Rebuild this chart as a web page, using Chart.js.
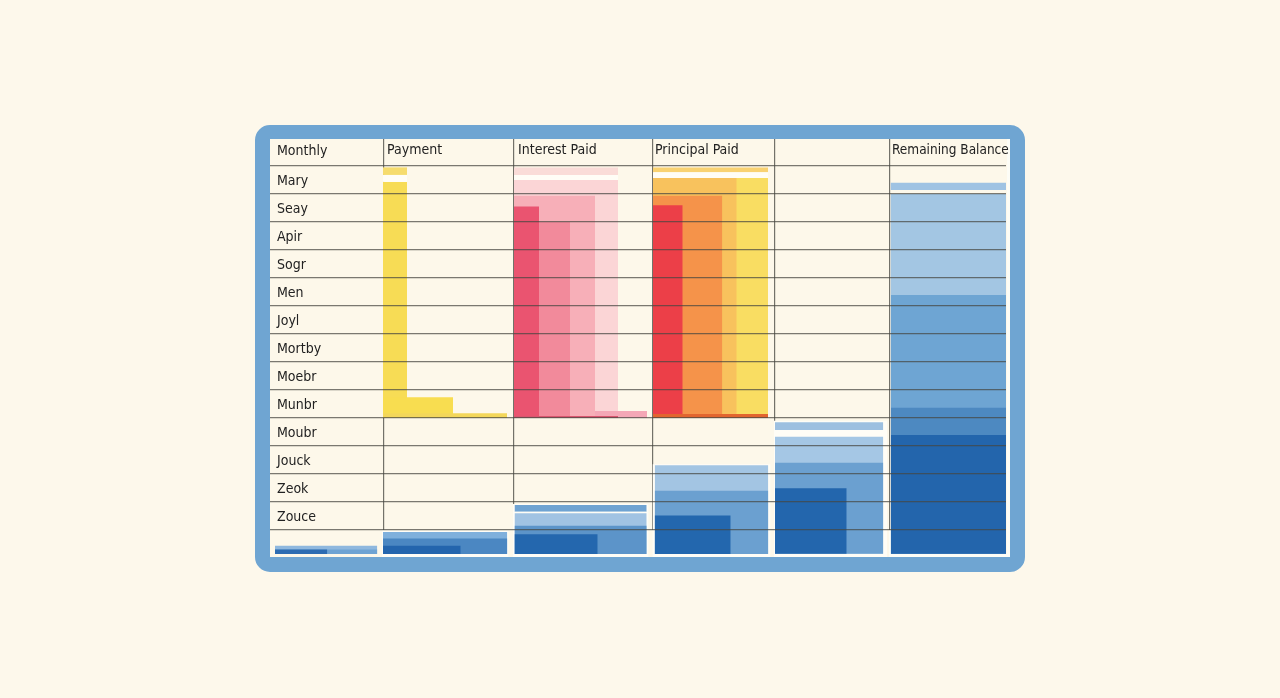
<!DOCTYPE html>
<html>
<head>
<meta charset="utf-8">
<title>Monthly loan table</title>
<script src="https://cdn.jsdelivr.net/npm/chart.js@4"></script>
<style>
    html, body { margin: 0; height: 100%; background: #fdf8eb; }
    #frame {
        position: absolute; left: 255px; top: 125px; width: 770px; height: 447px;
        box-sizing: border-box; border: solid #6fa5d2; border-width: 14px 15px 15px 15px;
        border-radius: 15px; background: #fdf8ea;
        box-shadow: inset -3px -3px 0 #fdfdf6;
    }
    #wrap { position: absolute; left: 270px; top: 139px; width: 739px; height: 418px; }
</style>
</head>
<body>
<div id="frame"></div>
<div id="wrap"><canvas id="tableChart" width="739" height="418"></canvas></div>
<script>
const rowLabels = ['Monthly', 'Mary', 'Seay', 'Apir', 'Sogr', 'Men', 'Joyl', 'Mortby', 'Moebr', 'Munbr', 'Moubr', 'Jouck', 'Zeok', 'Zouce'];
const rowTicks = [-0.54, 0.54, 1.56, 2.54, 3.54, 4.54, 5.54, 6.54, 7.54, 8.54, 9.54, 10.54, 11.54, 12.54];
const rowLines = [0, 1, 2, 3, 4, 5, 6, 7, 8, 9, 10, 11, 12, 13];
const columnEdges = [113.5, 243.5, 382.5, 504.5, 619.5];
const columnHeaders = ['Payment', 'Interest Paid', 'Principal Paid', 'Remaining Balance'];
const headerTicks = [117, 248, 385, 622];

// each band: row where it starts, row where it ends, [from, to] along the value axis
const monthlyTops = [13, 13.56, 13.7, 13.7];
const monthlyBottoms = [13.964, 13.86, 13.86, 13.86];
const monthlySpans = [[0, 736], [5, 107.3], [5, 107.3], [5, 57.3]];
const monthlyColors = ['#fdf8ea', '#8fb8de', '#6ea3d3', '#2d6cb2'];

const paymentTops = [0.05, 0.32, 0.57, 8.26, 8.83];
const paymentBottoms = [0.32, 0.57, 9, 9, 9];
const paymentSpans = [[113, 137], [113, 137], [113, 137], [113, 183], [113, 237]];
const paymentColors = ['#f6dc6e', '#fffdf6', '#f7dc55', '#f8dd50', '#f3d75a'];

const paymentLowTops = [13.03, 13.07, 13.3, 13.56];
const paymentLowBottoms = [13.964, 13.86, 13.86, 13.86];
const paymentLowSpans = [[112, 238.5], [113, 237.3], [113, 237.3], [113, 190.7]];
const paymentLowColors = ['#fffdf6', '#7fb0dc', '#4b87c2', '#2465ad'];

const interestTops = [0.05, 0.32, 0.5, 8.75, 1.06, 2, 1.45, 8.93];
const interestBottoms = [0.32, 0.5, 9, 9, 9, 9, 9, 9];
const interestSpans = [[244, 348], [244, 348], [244, 348], [325, 377], [244, 325], [244, 300], [244, 269], [244, 348]];
const interestColors = ['#fadcd8', '#fffdf6', '#fbd5d6', '#f4a7b6', '#f7afb8', '#f28a9b', '#ea5470', '#d9566f'];

const interestLowTops = [12.07, 12.11, 12.35, 12.4, 12.85, 13.15];
const interestLowBottoms = [13.964, 12.35, 12.4, 13.86, 13.86, 13.86];
const interestLowSpans = [[243, 378.5], [244.5, 376.7], [244.5, 376.7], [244.5, 376.7], [244.5, 376.7], [244.5, 327.7]];
const interestLowColors = ['#fffdf6', '#6fa3d2', '#fffdf6', '#a1c3e3', '#5c94c9', '#2467ae'];

const principalTops = [0.05, 0.22, 0.43, 0.43, 1.06, 1.4, 8.86];
const principalBottoms = [0.22, 0.43, 9, 9, 9, 9, 9];
const principalSpans = [[383, 498], [383, 498], [383, 498], [383, 466.7], [383, 452.3], [383, 412.7], [383, 498]];
const principalColors = ['#f9d272', '#fffdf6', '#f9dd62', '#f8c25d', '#f5934a', '#ec3f48', '#e2652f'];

const principalLowTops = [10.65, 10.69, 11.6, 12.48];
const principalLowBottoms = [13.964, 13.86, 13.86, 13.86];
const principalLowSpans = [[382.5, 500.5], [384.7, 498.3], [384.7, 498.3], [384.7, 460.7]];
const principalLowColors = ['#fffdf6', '#a3c5e3', '#6ba0d0', '#2367ae'];

const blankTops = [9.1, 9.15, 9.67, 10.6, 11.51];
const blankBottoms = [13.964, 9.43, 13.85, 13.85, 13.85];
const blankSpans = [[504, 617], [505, 613.3], [505, 613.3], [505, 613.3], [505, 576.7]];
const blankColors = ['#fffdf6', '#9dc0e0', '#a5c7e5', '#6ba0d0', '#2366ad'];

const balanceTops = [13, 0.6, 1, 4.61, 8.63, 9.61];
const balanceBottoms = [13.964, 0.86, 13.85, 13.85, 13.85, 13.85];
const balanceSpans = [[619, 736], [620.5, 736], [620.5, 736], [621, 736], [621, 736], [621, 736]];
const balanceColors = ['#fdfdf6', '#9fc3e3', '#a3c6e3', '#6ea5d3', '#4d89c1', '#2365ac'];

function bandDatasets(name, tops, bottoms, spans, colors) {
    return tops.map((top, i) => ({
        label: name,
        type: 'line',
        data: [{ x: spans[i][0], y: top }, { x: spans[i][1], y: top }],
        borderWidth: 0,
        pointRadius: 0,
        backgroundColor: colors[i],
        fill: { value: bottoms[i] }
    }));
}

const datasets = [
    ...bandDatasets('Monthly', monthlyTops, monthlyBottoms, monthlySpans, monthlyColors),
    ...bandDatasets('Payment', paymentTops, paymentBottoms, paymentSpans, paymentColors),
    ...bandDatasets('Payment', paymentLowTops, paymentLowBottoms, paymentLowSpans, paymentLowColors),
    ...bandDatasets('Interest Paid', interestTops, interestBottoms, interestSpans, interestColors),
    ...bandDatasets('Interest Paid', interestLowTops, interestLowBottoms, interestLowSpans, interestLowColors),
    ...bandDatasets('Principal Paid', principalTops, principalBottoms, principalSpans, principalColors),
    ...bandDatasets('Principal Paid', principalLowTops, principalLowBottoms, principalLowSpans, principalLowColors),
    ...bandDatasets('', blankTops, blankBottoms, blankSpans, blankColors),
    ...bandDatasets('Remaining Balance', balanceTops, balanceBottoms, balanceSpans, balanceColors)
];
// later bands sit on top of earlier ones
datasets.forEach((d, i) => { d.order = -i; });

const labelFont = { family: '"DejaVu Sans Condensed", "DejaVu Sans"', size: 14 };
const narrowFont = { family: labelFont.family, size: 13.5 };

function noSize(scale) {
    scale.width = scale.axis === 'y' ? 0 : scale.width;
    scale.height = scale.axis === 'x' ? 0 : scale.height;
    scale.paddingLeft = scale.paddingRight = scale.paddingTop = scale.paddingBottom = 0;
}

new Chart(document.getElementById('tableChart').getContext('2d'), {
    type: 'line',
    data: { datasets: datasets },
    options: {
        responsive: false,
        animation: false,
        layout: { padding: { right: 3 } },
        plugins: { legend: { display: false }, tooltip: { enabled: false } },
        scales: {
            x: {
                type: 'linear',
                position: 'top',
                min: 0,
                max: 736,
                afterBuildTicks: scale => { scale.ticks = columnEdges.map(v => ({ value: v })); },
                afterFit: noSize,
                border: { display: false },
                grid: { z: -1, drawTicks: false, lineWidth: 1.2, color: 'rgba(80, 80, 74, 0.8)' },
                ticks: { display: false }
            },
            headers: {
                type: 'linear',
                position: 'top',
                min: 0,
                max: 736,
                afterBuildTicks: scale => { scale.ticks = headerTicks.map(v => ({ value: v })); },
                afterFit: noSize,
                border: { display: false },
                grid: { display: false },
                ticks: {
                    autoSkip: false,
                    maxRotation: 0,
                    mirror: true,
                    align: 'start',
                    padding: 3,
                    color: '#222',
                    // last header is a little tighter to stay inside the panel
                    font: ctx => (ctx.index === 3 ? narrowFont : labelFont),
                    callback: value => columnHeaders[headerTicks.indexOf(value)]
                }
            },
            y: {
                type: 'linear',
                reverse: true,
                min: -0.964,
                max: 13.964,
                afterBuildTicks: scale => { scale.ticks = rowLines.map(v => ({ value: v })); },
                afterFit: noSize,
                border: { display: false },
                grid: { z: 1, drawTicks: false, lineWidth: 1.2, color: 'rgba(70, 70, 65, 0.72)' },
                ticks: { display: false }
            },
            rows: {
                type: 'linear',
                position: 'left',
                reverse: true,
                min: -0.964,
                max: 13.964,
                afterBuildTicks: scale => { scale.ticks = rowTicks.map(v => ({ value: v })); },
                afterFit: noSize,
                border: { display: false },
                grid: { display: false },
                ticks: {
                    autoSkip: false,
                    mirror: true,
                    padding: 7,
                    color: '#222',
                    font: labelFont,
                    callback: value => rowLabels[rowTicks.indexOf(value)]
                }
            }
        }
    }
});
</script>
</body>
</html>
